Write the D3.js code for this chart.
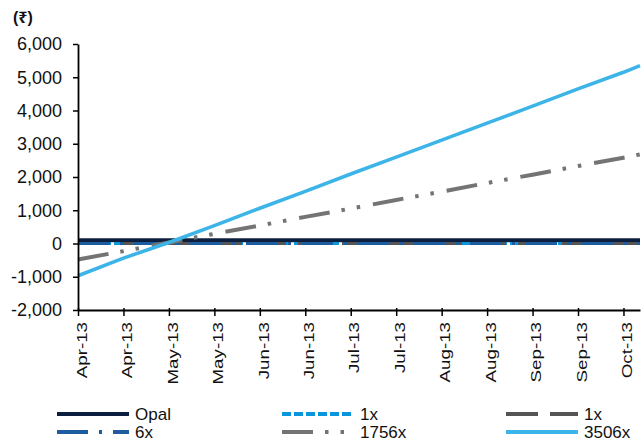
<!DOCTYPE html>
<html>
<head>
<meta charset="utf-8">
<script src="https://cdn.jsdelivr.net/npm/d3@7"></script>
<style>
  body { margin: 0; background: #fff; }
  text { font-family: "Liberation Sans", Arial, "Noto Sans", sans-serif; fill: #111; }
</style>
</head>
<body>
<div id="chart"></div>
<script>
var pointIdx = [0, 11, 22, 33, 44, 55, 66, 77, 88, 99, 110, 121, 132, 136];
var opal   = [100, 100, 100, 100, 100, 100, 100, 100, 100, 100, 100, 100, 100, 100];
var oneXa  = [0, 0, 0, 0, 0, 0, 0, 0, 0, 0, 0, 0, 0, 0];
var oneXb  = [0, 0, 0, 0, 0, 0, 0, 0, 0, 0, 0, 0, 0, 0];
var sixX   = [0, 0, 0, 0, 0, 0, 0, 0, 0, 0, 0, 0, 0, 0];
var x1756  = [-480, -230, 30, 290, 540, 800, 1050, 1310, 1560, 1820, 2070, 2330, 2580, 2680];
var x3506  = [-970, -440, 30, 540, 1060, 1570, 2090, 2600, 3110, 3620, 4130, 4650, 5150, 5350];

var tickIdx    = [0, 11, 22, 33, 44, 55, 66, 77, 88, 99, 110, 121, 132];
var tickLabels = ["Apr-13", "Apr-13", "May-13", "May-13", "Jun-13", "Jun-13", "Jul-13",
                  "Jul-13", "Aug-13", "Aug-13", "Sep-13", "Sep-13", "Oct-13"];
var yTicks = [-2000, -1000, 0, 1000, 2000, 3000, 4000, 5000, 6000];

var series = [
  { name: "Opal",  values: opal,  color: "#0d1f3e", width: 4,   dash: null },
  { name: "1x",    values: oneXa, color: "#0a96dc", width: 3,   dash: "9,3" },
  { name: "1x",    values: oneXb, color: "#555555", width: 3,   dash: "32,12" },
  { name: "6x",    values: sixX,  color: "#1d5c9e", width: 3,   dash: "31,11,3,11" },
  { name: "1756x", values: x1756, color: "#747474", width: 4,   dash: "31,12,3.5,12,3.5,13" },
  { name: "3506x", values: x3506, color: "#3cb4e8", width: 3.5, dash: null }
];

var W = 642, H = 446;
var plotLeft = 78, plotRight = 640, plotTop = 44, plotBottom = 310;

var svg = d3.select("#chart").append("svg")
    .attr("width", W)
    .attr("height", H);

var x = d3.scaleLinear().domain([0, 136]).range([plotLeft, plotRight]);
var y = d3.scaleLinear().domain([-2000, 6000]).range([plotBottom, plotTop]);

// unit label
svg.append("text")
    .attr("x", 13)
    .attr("y", 23)
    .style("font-size", "16px")
    .style("font-weight", "bold")
    .text("(\u20B9)");

// lines
var line = d3.line()
    .x(function(d) { return x(d[0]); })
    .y(function(d) { return y(d[1]); });

series.forEach(function(s) {
  var pts = pointIdx.map(function(p, i) { return [p, s.values[i]]; });
  svg.append("path")
      .datum(pts)
      .attr("d", line)
      .attr("fill", "none")
      .attr("stroke", s.color)
      .attr("stroke-width", s.width)
      .attr("stroke-dasharray", s.dash);
});

// y axis
var fmt = d3.format(",");
var yAxis = d3.axisLeft(y)
    .tickValues(yTicks)
    .tickFormat(function(d) { return fmt(d).replace("\u2212", "-"); })
    .tickSize(5)
    .tickSizeOuter(0)
    .tickPadding(11);

var gy = svg.append("g")
    .attr("transform", "translate(" + plotLeft + ",0)")
    .call(yAxis);
gy.select(".domain").attr("stroke", "#000").attr("stroke-width", 1.8);
gy.selectAll(".tick line").attr("stroke", "#000").attr("stroke-width", 1.5);
gy.selectAll(".tick text")
    .style("font-size", "18px")
    .attr("fill", "#111");

// x axis
var xAxis = d3.axisBottom(x)
    .tickValues(tickIdx)
    .tickFormat(function(d, i) { return tickLabels[i]; })
    .tickSize(6)
    .tickSizeOuter(0);

var gx = svg.append("g")
    .attr("transform", "translate(0," + plotBottom + ")")
    .call(xAxis);
gx.select(".domain").attr("stroke", "#000").attr("stroke-width", 2);
gx.selectAll(".tick line").attr("stroke", "#000").attr("stroke-width", 1.5).attr("y1", -2);
gx.selectAll(".tick text")
    .style("font-size", "15px")
    .attr("fill", "#111")
    .attr("text-anchor", "end")
    .attr("x", 0)
    .attr("y", 0)
    .attr("dy", "0.55em")
    .attr("transform", "translate(0,12) rotate(-90) scale(1.25,1)");

// legend
var legCols = [57, 282, 506];
var legRows = [414, 432];
var legLen = 72;

var leg = svg.selectAll(".legend")
    .data(series)
    .enter().append("g")
    .attr("class", "legend")
    .attr("transform", function(d, i) {
      return "translate(" + legCols[i % 3] + "," + legRows[Math.floor(i / 3)] + ")";
    });

leg.append("line")
    .attr("x1", 0)
    .attr("x2", legLen)
    .attr("y1", 0)
    .attr("y2", 0)
    .attr("stroke", function(d) { return d.color; })
    .attr("stroke-width", 4)
    .attr("stroke-dasharray", function(d) { return d.dash; });

leg.append("text")
    .attr("x", legLen + 6)
    .attr("y", 0)
    .attr("dy", "0.36em")
    .style("font-size", "17px")
    .text(function(d) { return d.name; });
</script>
</body>
</html>
